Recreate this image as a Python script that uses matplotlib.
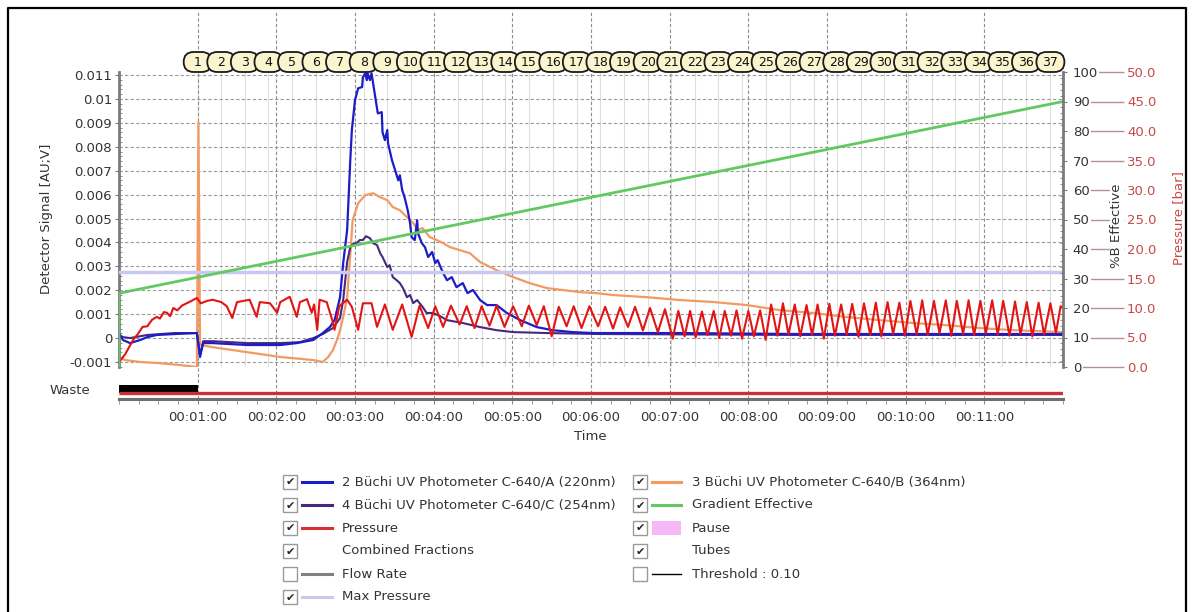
import matplotlib
matplotlib.use("Agg")
import matplotlib.pyplot as plt
from matplotlib.patches import Rectangle, FancyBboxPatch
from matplotlib.ticker import MultipleLocator

plt.rcParams["font.family"] = ["DejaVu Sans"]
plt.rcParams["font.size"] = 9.5

# ---- data (time in minutes) ----
blue_t = [0.00, 0.05, 0.14, 0.27, 0.36, 0.48, 0.71, 0.99, 1.03, 1.07, 1.19, 1.63, 2.05,
          2.26, 2.47, 2.59, 2.68, 2.74, 2.81, 2.85, 2.90, 2.94, 2.96, 3.00, 3.04, 3.09,
          3.10, 3.13, 3.15, 3.16, 3.19, 3.21, 3.25, 3.29, 3.34, 3.35, 3.38, 3.41, 3.42,
          3.47, 3.51, 3.55, 3.57, 3.60, 3.63, 3.67, 3.70, 3.72, 3.76, 3.79, 3.80, 3.85,
          3.89, 3.93, 3.98, 4.02, 4.05, 4.12, 4.17, 4.23, 4.29, 4.37, 4.43, 4.50, 4.59,
          4.68, 4.80, 4.93, 5.10, 5.31, 5.51, 5.77, 6.02, 7.13, 8.65, 12.00]
blue_v = [0.00021, -0.00008, -0.00021, -0.00008, 0.00004, 0.00013, 0.00017, 0.00021,
          -0.00079, -0.00021, -0.00021, -0.00029, -0.00029, -0.00021, -0.00008, 0.00021,
          0.00046, 0.00075, 0.00171, 0.00314, 0.00452, 0.00744, 0.0087, 0.00995, 0.01045,
          0.0105, 0.01091, 0.01108, 0.01079, 0.01108, 0.01079, 0.01108, 0.01024, 0.0094,
          0.00945, 0.00861, 0.00828, 0.0087, 0.00815, 0.00744, 0.00702, 0.0066, 0.00681,
          0.00619, 0.00589, 0.00535, 0.00481, 0.00422, 0.0041, 0.00493, 0.00439, 0.00397,
          0.0038, 0.00339, 0.0036, 0.00314, 0.00326, 0.00272, 0.00242, 0.00255, 0.00213,
          0.0023, 0.00188, 0.00201, 0.00159, 0.00138, 0.00138, 0.00105, 0.00075, 0.00046,
          0.00033, 0.00025, 0.00021, 0.00021, 0.00017, 0.00017]

purple_t = [0.00, 0.05, 0.14, 0.36, 0.71, 0.99, 1.03, 1.07, 1.19, 1.63, 2.05, 2.30, 2.47,
            2.59, 2.72, 2.81, 2.85, 2.90, 2.94, 2.97, 3.02, 3.06, 3.10, 3.14, 3.19, 3.23,
            3.28, 3.32, 3.35, 3.41, 3.44, 3.48, 3.53, 3.57, 3.61, 3.66, 3.70, 3.74, 3.79,
            3.86, 3.91, 3.99, 4.08, 4.17, 4.37, 4.59, 4.80, 5.01, 5.44, 6.11, 8.65, 12.00]
purple_v = [0.00013, 0.00004, 0.0, 0.00013, 0.00021, 0.00021, -0.00071, -0.00013,
            -0.00013, -0.00021, -0.00021, -0.00017, 0.0, 0.00017, 0.00042, 0.00084,
            0.00159, 0.00318, 0.0038, 0.00393, 0.00397, 0.0041, 0.0041, 0.00426, 0.00418,
            0.00397, 0.00389, 0.00355, 0.00339, 0.00297, 0.00305, 0.00255, 0.00242, 0.0023,
            0.00209, 0.00171, 0.0018, 0.00146, 0.00159, 0.0013, 0.00105, 0.00105, 0.00092,
            0.00075, 0.00063, 0.00046, 0.00033, 0.00025, 0.00021, 0.00017, 0.00013, 0.00013]

orange_t = [0.00, 0.08, 0.27, 0.52, 0.78, 0.99, 1.01, 1.03, 1.19, 1.63, 2.05, 2.47, 2.59,
            2.66, 2.72, 2.77, 2.81, 2.85, 2.90, 2.94, 2.97, 3.04, 3.13, 3.23, 3.32, 3.41,
            3.48, 3.57, 3.66, 3.74, 3.80, 3.86, 3.95, 4.04, 4.12, 4.21, 4.33, 4.46, 4.59,
            4.80, 5.01, 5.22, 5.44, 5.64, 5.86, 6.07, 6.28, 6.71, 7.13, 7.55, 7.98, 8.40,
            8.82, 9.25, 9.67, 10.09, 10.52, 10.94, 11.36, 12.00]
orange_v = [-0.00079, -0.00092, -0.001, -0.00105, -0.00113, -0.00121, 0.00903, -0.00029,
            -0.00038, -0.00059, -0.00079, -0.00092, -0.001, -0.00079, -0.0005, -0.00008,
            0.00033, 0.00088, 0.00171, 0.00347, 0.00493, 0.00564, 0.00598, 0.00606,
            0.00589, 0.00577, 0.00548, 0.00535, 0.00506, 0.00481, 0.00452, 0.0046, 0.00422,
            0.0041, 0.00397, 0.0038, 0.00368, 0.00355, 0.00318, 0.00284, 0.00255, 0.0023,
            0.00209, 0.00201, 0.00192, 0.00188, 0.0018, 0.00171, 0.00159, 0.00151, 0.00138,
            0.00117, 0.00105, 0.00088, 0.00075, 0.00063, 0.00054, 0.00042, 0.00033, 0.00025]

gradient_t = [0.0, 0.0, 12.0]
gradient_b = [0.0, 25.0, 90.0]

pressure_t = [
    0.00, 0.08, 0.18, 0.24, 0.30, 0.36, 0.42, 0.48, 0.52, 0.57, 0.61, 0.65, 0.69, 0.74,
    0.80, 0.86, 0.92, 0.99,
    1.04, 1.12, 1.19, 1.30, 1.37, 1.44, 1.50, 1.58, 1.66, 1.75, 1.79, 1.92, 2.01, 2.05,
    2.17, 2.26, 2.30, 2.39, 2.45, 2.48, 2.52, 2.55, 2.64, 2.71, 2.74, 2.80, 2.90, 2.96,
    3.04, 3.10, 3.21, 3.28, 3.38, 3.48, 3.60, 3.72, 3.82, 3.93, 4.02, 4.12, 4.22, 4.33,
    4.42, 4.52, 4.61, 4.71, 4.80, 4.90, 5.01, 5.12, 5.21, 5.31, 5.40, 5.50, 5.59, 5.69,
    5.78, 5.88, 5.98, 6.09, 6.18, 6.28, 6.37, 6.47, 6.56, 6.66, 6.75, 6.85, 6.94, 7.04,
    7.11, 7.19, 7.26, 7.33, 7.41, 7.48, 7.56, 7.63, 7.70, 7.78, 7.85, 7.92, 8.00, 8.07,
    8.15, 8.22, 8.29, 8.37, 8.44, 8.51, 8.59, 8.66, 8.74, 8.81, 8.88, 8.96, 9.03, 9.10,
    9.18, 9.25, 9.32, 9.40, 9.47, 9.55, 9.62, 9.69, 9.77, 9.84, 9.92, 9.99, 10.06, 10.14,
    10.21, 10.28, 10.36, 10.43, 10.51, 10.58, 10.65, 10.73, 10.80, 10.87, 10.95, 11.02,
    11.10, 11.17, 11.24, 11.32, 11.39, 11.46, 11.54, 11.61, 11.69, 11.76, 11.84, 11.91,
    11.97, 12.00]
pressure_bar = [
    0.8, 2.2, 4.6, 5.6, 6.8, 6.9, 8.0, 8.5, 8.2, 9.3, 9.2, 8.6, 10.0, 9.6,
    10.4, 10.8, 11.2, 11.7,
    10.8, 11.2, 11.4, 11.0, 10.3, 8.3, 11.0, 11.2, 11.4, 8.5, 11.0, 10.8, 9.2, 11.0,
    11.9, 8.5, 11.0, 11.5, 9.2, 10.6, 6.3, 11.4, 11.0, 8.0, 6.3, 10.3, 11.4, 10.2,
    6.3, 10.8, 10.8, 6.8, 10.6, 6.3, 10.6, 5.1, 10.4, 6.6, 10.3, 6.8, 10.4, 7.2,
    10.3, 6.6, 10.3, 7.0, 10.4, 6.8, 10.3, 6.9, 10.4, 7.1, 10.3, 5.2, 10.2, 6.9,
    10.3, 6.6, 10.3, 6.9, 10.2, 6.5, 10.1, 6.8, 10.2, 6.2, 10.0, 5.9, 9.8, 4.8,
    9.5, 5.2, 9.5, 5.0, 9.4, 5.4, 9.5, 4.9, 9.5, 5.3, 9.6, 4.8, 9.5, 5.2,
    9.6, 4.6, 10.6, 5.3, 10.8, 5.5, 10.6, 5.2, 10.5, 5.4, 10.6, 4.8, 10.7, 5.3,
    10.6, 5.5, 10.7, 5.1, 10.8, 5.4, 10.9, 5.2, 11.0, 5.6, 10.9, 5.3, 11.2, 5.5,
    11.3, 5.4, 11.2, 5.7, 11.3, 5.3, 11.2, 5.6, 11.3, 5.4, 11.2, 5.7,
    11.3, 5.5, 11.2, 5.3, 11.1, 5.6, 11.0, 5.2, 10.9, 5.5, 10.8, 5.8,
    10.3, 10.0]

max_pressure_bar = 16.1

fraction_t = [1.00, 1.30, 1.60, 1.90, 2.20, 2.51, 2.81, 3.11, 3.41, 3.71, 4.01, 4.31, 4.61,
              4.91, 5.21, 5.52, 5.82, 6.12, 6.42, 6.72, 7.02, 7.32, 7.62, 7.92, 8.22, 8.53,
              8.83, 9.13, 9.43, 9.73, 10.03, 10.33, 10.63, 10.93, 11.23, 11.53, 11.84]
fraction_labels = [str(i) for i in range(1, 38)]

waste_span = (0.0, 1.0)
collect_span = (1.0, 12.0)

signal_ticks = [-0.001, 0, 0.001, 0.002, 0.003, 0.004, 0.005, 0.006, 0.007, 0.008,
                0.009, 0.01, 0.011]
signal_labels = ["-0.001", "0", "0.001", "0.002", "0.003", "0.004", "0.005", "0.006",
                 "0.007", "0.008", "0.009", "0.01", "0.011"]
time_ticks = [1, 2, 3, 4, 5, 6, 7, 8, 9, 10, 11]
time_labels = ["00:01:00", "00:02:00", "00:03:00", "00:04:00", "00:05:00", "00:06:00",
               "00:07:00", "00:08:00", "00:09:00", "00:10:00", "00:11:00"]

# ---- colours ----
C_BLUE = "#1c1cc8"
C_PURPLE = "#46287f"
C_ORANGE = "#f29a64"
C_GREEN = "#62c862"
C_RED = "#e31414"
C_MAXP = "#c8c8f2"
C_AXIS = "#7a7a7a"
C_TEXT = "#333333"
C_PRES_TXT = "#c84848"

W, H = 1194, 612
fig = plt.figure(figsize=(W / 100, H / 100), dpi=100)


def fig_box(x0, y0, x1, y1):
    return [x0 / W, 1 - y1 / H, (x1 - x0) / W, (y1 - y0) / H]


# ---- main detector axes ----
ax = fig.add_axes(fig_box(119, 72, 1063, 367))
ax.set_xlim(0, 12)
ax.set_ylim(-0.00121, 0.01113)
ax.set_yticks(signal_ticks)
ax.set_yticklabels(signal_labels)
ax.yaxis.set_minor_locator(MultipleLocator(0.0002))
ax.set_xticks([])
for side in ["top", "right", "bottom"]:
    ax.spines[side].set_visible(False)
ax.spines["left"].set_color(C_AXIS)
ax.spines["left"].set_linewidth(2)
ax.tick_params(axis="y", which="major", length=3, pad=2, color=C_AXIS, labelcolor=C_TEXT)
ax.tick_params(axis="y", which="minor", length=2, direction="in", color=C_AXIS)
ax.yaxis.grid(True, linestyle=(0, (3, 2)), color="#9a9a9a", linewidth=0.8)
ax.set_axisbelow(True)

for t in fraction_t:
    ax.axvline(t, color="#dedede", linewidth=0.8, zorder=0)
for m in time_ticks:
    ax.axvline(m, ymin=-0.1085, ymax=1.21, clip_on=False, color="#8c8c8c",
               linewidth=0.8, linestyle=(0, (3, 2)), zorder=0.5)

ax.plot(orange_t, orange_v, color=C_ORANGE, linewidth=1.6, zorder=2)
ax.plot(purple_t, purple_v, color=C_PURPLE, linewidth=1.5, zorder=3)
ax.plot(blue_t, blue_v, color=C_BLUE, linewidth=1.6, zorder=4)

# ---- pressure axis ----
axP = ax.twinx()
axP.set_ylim(0, 50)
axP.set_yticks(range(0, 51, 5))
axP.set_yticklabels([f"{v:.1f}" for v in range(0, 51, 5)])
for side in ["top", "left", "bottom", "right"]:
    axP.spines[side].set_visible(False)
axP.spines["right"].set_position(("outward", 13))
axP.tick_params(axis="y", length=31, width=1, pad=2, color="#b99090",
                labelcolor=C_PRES_TXT)
axP.axhline(max_pressure_bar, color=C_MAXP, linewidth=2.5, zorder=1)
axP.plot(pressure_t, pressure_bar, color=C_RED, linewidth=1.5, zorder=3)

# ---- %B axis ----
axB = ax.twinx()
axB.set_zorder(axP.get_zorder() + 1)
axB.set_ylim(0, 100)
axB.set_yticks(range(0, 101, 10))
axB.yaxis.set_minor_locator(MultipleLocator(2))
for side in ["top", "left", "bottom"]:
    axB.spines[side].set_visible(False)
axB.spines["right"].set_color(C_AXIS)
axB.spines["right"].set_linewidth(2)
axB.tick_params(axis="y", which="major", length=3, pad=4, color=C_AXIS, labelcolor=C_TEXT)
axB.tick_params(axis="y", which="minor", length=2, direction="in", color=C_AXIS)
for lab in axB.get_yticklabels():
    lab.set_bbox(dict(facecolor="white", edgecolor="none", pad=1.0))
axB.plot(gradient_t, gradient_b, color=C_GREEN, linewidth=2, zorder=2)

# ---- waste / time axis ----
ax_t = fig.add_axes(fig_box(119, 380, 1063, 399))
ax_t.patch.set_visible(False)
ax_t.set_xlim(0, 12)
ax_t.set_ylim(0, 1)
ax_t.set_yticks([])
for side in ["top", "left", "right"]:
    ax_t.spines[side].set_visible(False)
ax_t.spines["bottom"].set_color("#6e6e6e")
ax_t.spines["bottom"].set_linewidth(2.2)
ax_t.set_xticks(time_ticks)
ax_t.set_xticklabels(time_labels)
ax_t.xaxis.set_minor_locator(MultipleLocator(0.25))
ax_t.tick_params(axis="x", which="both", length=3.5, color="#8a8a8a", pad=5,
                 labelcolor=C_TEXT)
ax_t.plot([0, collect_span[1]], [0.29, 0.29], color="#c83232", linewidth=2.4,
          solid_capstyle="butt")
ax_t.fill_between(waste_span, 0.34, 0.76, color="black", linewidth=0)

fig.text(590 / W, 1 - 437 / H, "Time", ha="center", va="center", color=C_TEXT)
fig.text(90 / W, 1 - 390 / H, "Waste", ha="right", va="center", color=C_TEXT)
fig.text(47 / W, 1 - 219 / H, "Detector Signal [AU;V]", rotation=90, ha="center",
         va="center", color=C_TEXT)
fig.text(1117 / W, 1 - 226 / H, "%B Effective", rotation=90, ha="center", va="center",
         color=C_TEXT, zorder=20,
         bbox=dict(facecolor="white", edgecolor="none", pad=0.5))
fig.text(1179 / W, 1 - 218 / H, "Pressure [bar]", rotation=90, ha="center",
         va="center", color=C_PRES_TXT)

# ---- overlay in pixel space: frame, fraction markers, legend ----
ov = fig.add_axes([0, 0, 1, 1])
ov.set_xlim(0, W)
ov.set_ylim(0, H)
ov.axis("off")
ov.patch.set_visible(False)
ov.plot([8, 8, 1186, 1186], [0, H - 8, H - 8, 0], color="black", linewidth=1.6)

fig.canvas.draw()
for i, (t, lab) in enumerate(zip(fraction_t, fraction_labels)):
    cx = ax.transData.transform((t, 0))[0]
    cy = H - 62
    ov.add_patch(FancyBboxPatch((cx - 14, cy - 10), 28, 20,
                                boxstyle="round,pad=0,rounding_size=10",
                                facecolor="#fbf5cf", edgecolor="#1a1a1a",
                                linewidth=1.3, zorder=10 + 2 * i))
    ov.text(cx, cy, lab, ha="center", va="center", fontsize=9, color="#111111",
            zorder=11 + 2 * i)

legend_left = [
    ("2 Büchi UV Photometer C-640/A (220nm)", True, "line", C_BLUE),
    ("4 Büchi UV Photometer C-640/C (254nm)", True, "line", C_PURPLE),
    ("Pressure", True, "line", "#d83030"),
    ("Combined Fractions", True, None, None),
    ("Flow Rate", False, "line", "#808080"),
    ("Max Pressure", True, "line", C_MAXP),
]
legend_right = [
    ("3 Büchi UV Photometer C-640/B (364nm)", True, "line", C_ORANGE),
    ("Gradient Effective", True, "line", C_GREEN),
    ("Pause", True, "patch", "#f6b8f6"),
    ("Tubes", True, None, None),
    ("Threshold : 0.10", False, "thin", "black"),
]
legend_rows_y = [482, 505, 528, 551, 574, 597]


def legend_column(entries, box_x, line_x0, line_x1, text_x):
    for (label, checked, kind, color), y in zip(entries, legend_rows_y):
        Y = H - y
        ov.add_patch(Rectangle((box_x - 7, Y - 7), 14, 14, facecolor="white",
                               edgecolor="#9a9a9a", linewidth=1))
        if checked:
            ov.text(box_x, Y - 0.5, "\u2714", ha="center", va="center", fontsize=8,
                    color="#222222")
        if kind == "line":
            ov.plot([line_x0, line_x1], [Y, Y], color=color, linewidth=2.2)
        elif kind == "thin":
            ov.plot([line_x0, line_x1], [Y, Y], color=color, linewidth=1.0)
        elif kind == "patch":
            ov.add_patch(Rectangle((line_x0, Y - 7), line_x1 - line_x0, 14,
                                   facecolor=color, edgecolor="none"))
        ov.text(text_x, Y, label, ha="left", va="center", color=C_TEXT)


legend_column(legend_left, 290, 302, 332, 342)
legend_column(legend_right, 640, 652, 681, 692)

fig.savefig("out.png", dpi=100)
